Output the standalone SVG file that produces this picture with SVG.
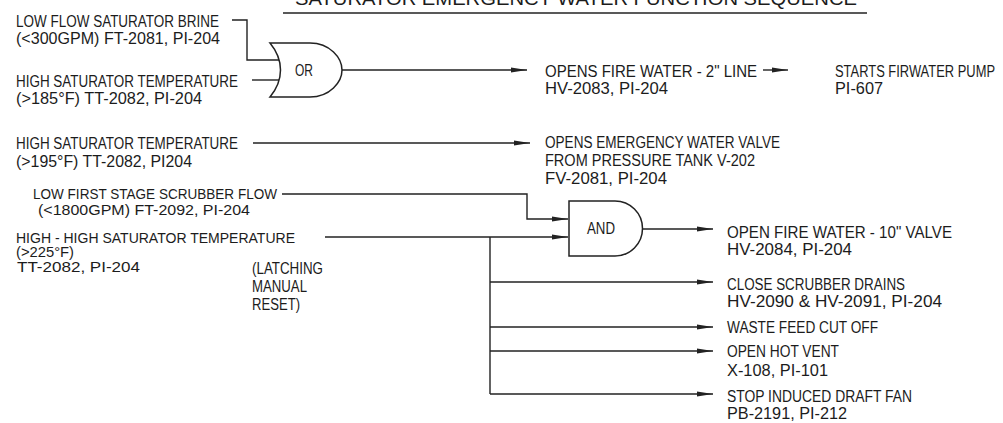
<svg xmlns="http://www.w3.org/2000/svg" width="1003" height="423" viewBox="0 0 1003 423">
<style>
text{font-family:"Liberation Sans Narrow","Liberation Sans",Arial,sans-serif;font-size:16px;fill:#1c1c1c}
.title{font-size:19px}
.sm{font-size:15px}
.xs{font-size:14px}
.ln{fill:none;stroke:#222;stroke-width:1.4}
.gate{fill:#fff;stroke:#222;stroke-width:1.5}
.arr{marker-end:url(#ah)}
</style>
<defs>
<marker id="ah" markerUnits="userSpaceOnUse" markerWidth="17" markerHeight="7" refX="16" refY="3" orient="auto">
<path d="M0,0.4 L16,3 L0,5.6 Z" fill="#222"/>
</marker>
</defs>
<rect width="1003" height="423" fill="#fff"/>

<g id="title">
<text class="title" x="295" y="5" textLength="562" lengthAdjust="spacingAndGlyphs">SATURATOR EMERGENCY WATER FUNCTION SEQUENCE</text>
<line x1="283" y1="13" x2="867" y2="13" stroke="#222" stroke-width="1.5"/>
</g>

<g id="in-low-flow-brine">
<text x="16" y="27" textLength="203" lengthAdjust="spacingAndGlyphs">LOW FLOW SATURATOR BRINE</text>
<text x="16" y="44" textLength="204" lengthAdjust="spacingAndGlyphs">(&lt;300GPM) FT-2081, PI-204</text>
</g>
<g id="in-high-temp-185">
<text x="16" y="87" textLength="222" lengthAdjust="spacingAndGlyphs">HIGH SATURATOR TEMPERATURE</text>
<text x="16" y="104" textLength="186" lengthAdjust="spacingAndGlyphs">(&gt;185°F) TT-2082, PI-204</text>
</g>
<g id="in-high-temp-195">
<text x="16" y="149" textLength="222" lengthAdjust="spacingAndGlyphs">HIGH SATURATOR TEMPERATURE</text>
<text x="16" y="167" textLength="176" lengthAdjust="spacingAndGlyphs">(&gt;195°F) TT-2082, PI204</text>
</g>
<g id="in-low-scrubber-flow">
<text class="sm" x="33" y="199" textLength="244" lengthAdjust="spacingAndGlyphs">LOW FIRST STAGE SCRUBBER FLOW</text>
<text class="sm" x="38" y="215" textLength="212" lengthAdjust="spacingAndGlyphs">(&lt;1800GPM) FT-2092, PI-204</text>
</g>
<g id="in-high-high-temp">
<text class="sm" x="16" y="243" textLength="279" lengthAdjust="spacingAndGlyphs">HIGH - HIGH SATURATOR TEMPERATURE</text>
<text class="xs" x="16" y="257" textLength="58" lengthAdjust="spacingAndGlyphs">(&gt;225°F)</text>
<text class="sm" x="17" y="272" textLength="123" lengthAdjust="spacingAndGlyphs">TT-2082, PI-204</text>
</g>
<g id="note-latching">
<text x="252" y="274" textLength="71" lengthAdjust="spacingAndGlyphs">(LATCHING</text>
<text x="252" y="292" textLength="55" lengthAdjust="spacingAndGlyphs">MANUAL</text>
<text x="252" y="310" textLength="48" lengthAdjust="spacingAndGlyphs">RESET)</text>
</g>

<g id="gate-or">
<path class="gate" d="M270,43 H310 C330,43 342,58 342,70 C342,82 330,97 310,97 H270 C284,80 284,60 270,43 Z"/>
<text x="295" y="76" textLength="18" lengthAdjust="spacingAndGlyphs">OR</text>
</g>
<g id="gate-and">
<path class="gate" d="M569,201 H615 A27.5,27.5 0 0 1 615,256 H569 Z"/>
<text x="587" y="234" textLength="28" lengthAdjust="spacingAndGlyphs">AND</text>
</g>

<g id="out-fire-water-2in">
<text x="545" y="77" textLength="212" lengthAdjust="spacingAndGlyphs">OPENS FIRE WATER - 2" LINE</text>
<text x="545" y="94" textLength="123" lengthAdjust="spacingAndGlyphs">HV-2083, PI-204</text>
</g>
<g id="out-fire-water-pump">
<text x="835" y="77" textLength="160" lengthAdjust="spacingAndGlyphs">STARTS FIRWATER PUMP</text>
<text x="835" y="94" textLength="48" lengthAdjust="spacingAndGlyphs">PI-607</text>
</g>
<g id="out-emergency-valve">
<text x="545" y="148" textLength="235" lengthAdjust="spacingAndGlyphs">OPENS EMERGENCY WATER VALVE</text>
<text x="545" y="166" textLength="210" lengthAdjust="spacingAndGlyphs">FROM PRESSURE TANK V-202</text>
<text x="545" y="184" textLength="122" lengthAdjust="spacingAndGlyphs">FV-2081, PI-204</text>
</g>
<g id="out-fire-water-10in">
<text x="727" y="238" textLength="225" lengthAdjust="spacingAndGlyphs">OPEN FIRE WATER - 10" VALVE</text>
<text x="727" y="255" textLength="125" lengthAdjust="spacingAndGlyphs">HV-2084, PI-204</text>
</g>
<g id="out-scrubber-drains">
<text x="727" y="290" textLength="178" lengthAdjust="spacingAndGlyphs">CLOSE SCRUBBER DRAINS</text>
<text x="727" y="307" textLength="215" lengthAdjust="spacingAndGlyphs">HV-2090 &amp; HV-2091, PI-204</text>
</g>
<g id="out-waste-feed">
<text x="727" y="333" textLength="151" lengthAdjust="spacingAndGlyphs">WASTE FEED CUT OFF</text>
</g>
<g id="out-hot-vent">
<text x="727" y="357" textLength="112" lengthAdjust="spacingAndGlyphs">OPEN HOT VENT</text>
<text x="727" y="376" textLength="101" lengthAdjust="spacingAndGlyphs">X-108, PI-101</text>
</g>
<g id="out-draft-fan">
<text x="727" y="402" textLength="185" lengthAdjust="spacingAndGlyphs">STOP INDUCED DRAFT FAN</text>
<text x="727" y="419" textLength="120" lengthAdjust="spacingAndGlyphs">PB-2191, PI-212</text>
</g>

<g id="connectors">
<polyline class="ln" points="232,20 247,20 247,60 279,60"/>
<line class="ln" x1="252" y1="80" x2="279" y2="80"/>
<line class="ln arr" x1="342" y1="70" x2="527" y2="70"/>
<line class="ln arr" x1="763" y1="70" x2="788" y2="70"/>
<line class="ln arr" x1="253" y1="143" x2="530" y2="143"/>
<polyline class="ln arr" points="282,194 527,194 527,219 568,219"/>
<line class="ln arr" x1="325" y1="237" x2="568" y2="237"/>
<line class="ln arr" x1="643" y1="229" x2="713" y2="229"/>
<line class="ln" x1="490" y1="237" x2="490" y2="394"/>
<line class="ln arr" x1="490" y1="282" x2="713" y2="282"/>
<line class="ln arr" x1="490" y1="327" x2="713" y2="327"/>
<line class="ln arr" x1="490" y1="351" x2="713" y2="351"/>
<line class="ln arr" x1="490" y1="394" x2="713" y2="394"/>
</g>
</svg>
